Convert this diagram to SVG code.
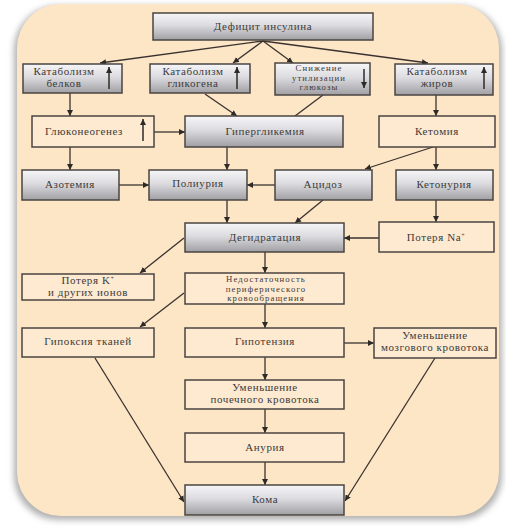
<svg xmlns="http://www.w3.org/2000/svg" width="506" height="529" viewBox="0 0 506 529">
<defs>
<linearGradient id="gr" x1="0" y1="0" x2="0" y2="1">
<stop offset="0" stop-color="#f6f6f8"/>
<stop offset="0.45" stop-color="#dcdce0"/>
<stop offset="1" stop-color="#a0a0a4"/>
</linearGradient>
<filter id="sh" x="-5%" y="-5%" width="110%" height="110%">
<feGaussianBlur stdDeviation="3"/>
</filter>
<marker id="ah" viewBox="0 0 10 10" refX="10" refY="5" markerWidth="6" markerHeight="6" markerUnits="userSpaceOnUse" orient="auto">
<path d="M0,0 L10,5 L0,10 z" fill="#2e2a28"/>
</marker>
</defs>
<style>
.g rect{fill:url(#gr);stroke:#4a4442;stroke-width:1.5}
.p rect{fill:#fdead0;stroke:#4a4442;stroke-width:1.5}
text{font-family:"Liberation Serif","DejaVu Serif",serif;font-size:11px;fill:#3e3a3a;text-anchor:middle;letter-spacing:0.6px}
text.s{font-size:8.7px;letter-spacing:1.1px}
.c line{stroke:#3a3230;stroke-width:1.3;fill:none}
.c .a{marker-end:url(#ah)}
.ia{stroke:#2e2a28;stroke-width:1.5;marker-end:url(#ah)}
</style>
<rect x="0" y="0" width="506" height="529" fill="#ffffff"/>
<rect x="14" y="6" width="488" height="514" rx="44" fill="#b0b0b0" filter="url(#sh)"/>
<rect x="17" y="4" width="482" height="512" rx="44" fill="#fde6c6"/>

<g class="c">
<line class="a" x1="263" y1="41" x2="100" y2="63"/>
<line class="a" x1="263" y1="41" x2="233" y2="63"/>
<line class="a" x1="263" y1="41" x2="293" y2="63"/>
<line class="a" x1="263" y1="41" x2="428" y2="63"/>
<line class="a" x1="70" y1="93" x2="70" y2="116"/>
<line class="a" x1="205" y1="94" x2="237" y2="116"/>
<line x1="323" y1="95" x2="295" y2="116"/>
<line class="a" x1="436" y1="95" x2="436" y2="116"/>
<line class="a" x1="154" y1="132" x2="185" y2="132"/>
<line class="a" x1="70" y1="147" x2="70" y2="170"/>
<line class="a" x1="227" y1="147" x2="227" y2="170"/>
<line class="a" x1="433" y1="147" x2="365" y2="169"/>
<line class="a" x1="436" y1="147" x2="436" y2="170"/>
<line class="a" x1="119" y1="185" x2="149" y2="185"/>
<line class="a" x1="275" y1="185" x2="247" y2="185"/>
<line class="a" x1="227" y1="200" x2="227" y2="223"/>
<line class="a" x1="323" y1="200" x2="295" y2="223"/>
<line class="a" x1="436" y1="200" x2="436" y2="222"/>
<line class="a" x1="379" y1="238" x2="344" y2="238"/>
<line class="a" x1="184" y1="238" x2="140" y2="273"/>
<line class="a" x1="265" y1="252" x2="265" y2="273"/>
<line class="a" x1="184" y1="293" x2="140" y2="327"/>
<line class="a" x1="265" y1="304" x2="265" y2="328"/>
<line class="a" x1="344" y1="343" x2="374" y2="343"/>
<line class="a" x1="265" y1="357" x2="265" y2="380"/>
<line class="a" x1="265" y1="409" x2="265" y2="433"/>
<line class="a" x1="265" y1="462" x2="265" y2="485"/>
<line class="a" x1="95" y1="358" x2="184" y2="502"/>
<line class="a" x1="435" y1="358" x2="345" y2="501"/>
</g>

<g id="n1" class="g"><rect x="153" y="13" width="220" height="27"/><text x="263" y="30">Дефицит инсулина</text></g>
<g id="n2" class="g"><rect x="23" y="64" width="99" height="29"/><text x="64" y="75">Катаболизм</text><text x="64" y="87">белков</text><line class="ia" x1="109" y1="89" x2="109" y2="67"/></g>
<g id="n3" class="g"><rect x="150" y="64" width="100" height="29"/><text x="193" y="75">Катаболизм</text><text x="193" y="87">гликогена</text><line class="ia" x1="237" y1="89" x2="237" y2="67"/></g>
<g id="n4" class="g"><rect x="275" y="63" width="95" height="32"/><text class="s" x="319" y="71">Снижение</text><text class="s" x="319" y="80.5">утилизации</text><text class="s" x="319" y="90">глюкозы</text><line class="ia" x1="364" y1="69" x2="364" y2="88"/></g>
<g id="n5" class="g"><rect x="395" y="64" width="98" height="31"/><text x="437" y="75">Катаболизм</text><text x="437" y="87">жиров</text><line class="ia" x1="484" y1="89" x2="484" y2="67"/></g>
<g id="n6" class="p"><rect x="32" y="116" width="122" height="31"/><text x="84" y="135">Глюконеогенез</text><line class="ia" x1="143" y1="141" x2="143" y2="119"/></g>
<g id="n7" class="g"><rect x="185" y="116" width="158" height="31"/><text x="265" y="135">Гипергликемия</text></g>
<g id="n8" class="p"><rect x="379" y="116" width="116" height="31"/><text x="437" y="135">Кетомия</text></g>
<g id="n9" class="g"><rect x="22" y="170" width="97" height="30"/><text x="70" y="188">Азотемия</text></g>
<g id="n10" class="g"><rect x="149" y="170" width="98" height="30"/><text x="198" y="187">Полиурия</text></g>
<g id="n11" class="g"><rect x="275" y="170" width="97" height="30"/><text x="323" y="188">Ацидоз</text></g>
<g id="n12" class="g"><rect x="396" y="170" width="97" height="30"/><text x="444" y="188">Кетонурия</text></g>
<g id="n13" class="g"><rect x="185" y="223" width="159" height="29"/><text x="265" y="241">Дегидратация</text></g>
<g id="n14" class="p"><rect x="379" y="222" width="115" height="30"/><text x="436" y="241">Потеря Na<tspan font-size="6" dy="-4">+</tspan></text></g>
<g id="n15" class="p"><rect x="22" y="274" width="132" height="26"/><text x="88" y="284">Потеря K<tspan font-size="6" dy="-4">+</tspan></text><text x="88" y="296">и других ионов</text></g>
<g id="n16" class="p"><rect x="185" y="273" width="159" height="31"/><text class="s" x="266" y="282">Недостаточность</text><text class="s" x="266" y="291.5">периферического</text><text class="s" x="266" y="301">кровообращения</text></g>
<g id="n17" class="p"><rect x="22" y="328" width="132" height="29"/><text x="88" y="345">Гипоксия тканей</text></g>
<g id="n18" class="p"><rect x="185" y="328" width="159" height="29"/><text x="265" y="345">Гипотензия</text></g>
<g id="n19" class="p"><rect x="374" y="328" width="122" height="30"/><text x="435" y="339">Уменьшение</text><text x="435" y="351">мозгового кровотока</text></g>
<g id="n20" class="p"><rect x="185" y="380" width="159" height="29"/><text x="265" y="391">Уменьшение</text><text x="265" y="403">почечного кровотока</text></g>
<g id="n21" class="p"><rect x="185" y="433" width="159" height="29"/><text x="265" y="451">Анурия</text></g>
<g id="n22" class="g"><rect x="185" y="485" width="159" height="30"/><text x="265" y="503">Кома</text></g>
</svg>
